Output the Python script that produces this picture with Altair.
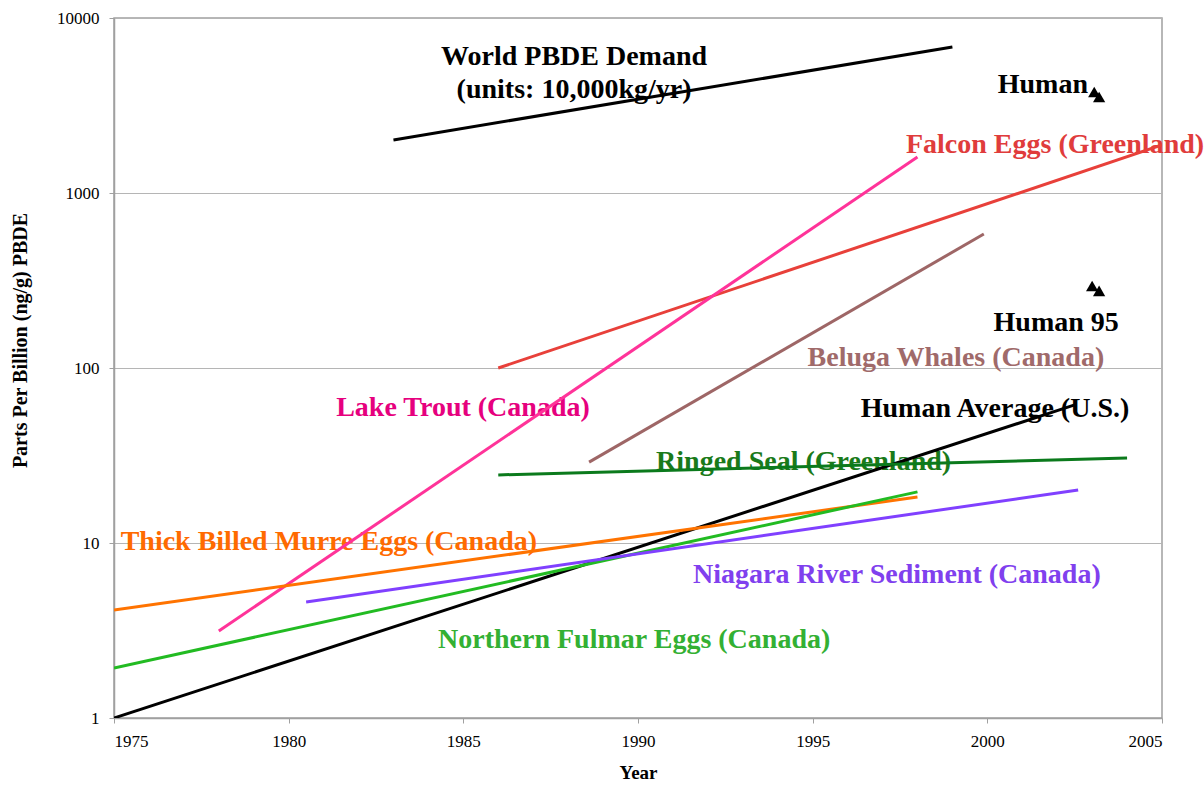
import altair as alt
import pandas as pd

# Trend lines: each series is a straight line on the log axis, given by its two ends
series_names = [
    "World PBDE Demand",
    "Human Average (U.S.)",
    "Falcon Eggs (Greenland)",
    "Lake Trout (Canada)",
    "Beluga Whales (Canada)",
    "Ringed Seal (Greenland)",
    "Thick Billed Murre Eggs (Canada)",
    "Northern Fulmar Eggs (Canada)",
    "Niagara River Sediment (Canada)",
]
start_year = [1983.0, 1975.0, 1986.0, 1978.0, 1988.6, 1986.0, 1975.0, 1975.0, 1980.5]
end_year = [1999.0, 2002.5, 2005.0, 1998.0, 1999.9, 2004.0, 1998.0, 1998.0, 2002.6]
start_value = [2010, 1.0, 100, 3.14, 29.0, 24.5, 4.14, 1.93, 4.6]
end_value = [6830, 61.5, 1880, 1606, 583, 30.6, 18.3, 19.6, 20.1]
line_colors = ["#000000", "#000000", "#e8403a", "#ff3399", "#9e6666",
               "#0b7a1c", "#ff7300", "#22bb22", "#8040ff"]

# Individual human measurements (triangles)
human_year = [2003.06, 2003.2, 2003.0, 2003.2]
human_value = [3777, 3537, 294, 276]

# Annotation labels
label_text = [
    "World PBDE Demand",
    "(units: 10,000kg/yr)",
    "Human",
    "Lake Trout (Canada)",
    "Beluga Whales (Canada)",
    "Human 95",
    "Human Average (U.S.)",
    "Ringed Seal (Greenland)",
    "Thick Billed Murre Eggs (Canada)",
    "Niagara River Sediment (Canada)",
    "Northern Fulmar Eggs (Canada)",
]
label_year = [1988.17, 1988.17, 2001.59, 1984.99, 1999.10, 2001.97,
              2000.22, 1994.74, 1981.15, 1997.41, 1989.89]
label_value = [5985, 3880, 4142, 59.1, 114, 181, 58.3, 29.0, 10.1, 6.56, 2.79]
label_colors = ["#000000", "#000000", "#000000", "#e6007e", "#a06a6a", "#000000",
                "#000000", "#1a7a1a", "#ff6a00", "#8040ee", "#33b033"]

# Falcon label runs off the right edge, so it is anchored at its left end
falcon_text = ["Falcon Eggs (Greenland)"]
falcon_year = [1997.67]
falcon_value = [1881]
falcon_color = ["#e03c3c"]

rows = []
for name, x0, x1, y0, y1 in zip(series_names, start_year, end_year, start_value, end_value):
    rows.append({"series": name, "year": x0, "value": y0})
    rows.append({"series": name, "year": x1, "value": y1})
lines_df = pd.DataFrame(rows)

points_df = pd.DataFrame({"year": human_year, "value": human_value})
labels_df = pd.DataFrame({"text": label_text, "year": label_year,
                          "value": label_value, "color": label_colors})
falcon_df = pd.DataFrame({"text": falcon_text, "year": falcon_year,
                          "value": falcon_value, "color": falcon_color})

FONT = "Liberation Serif"
LABEL_SIZE = 28

x_scale = alt.Scale(domain=[1975, 2005], nice=False, zero=False)
y_scale = alt.Scale(type="log", domain=[1, 10000], nice=False)

x_axis = alt.Axis(
    title="Year", values=list(range(1975, 2006, 5)), format="d", grid=False,
    labelFont=FONT, labelFontSize=17, labelColor="#000000", labelPadding=10,
    tickSize=5, tickColor="#a0a0a0", domainColor="#a0a0a0", domainWidth=1.5,
    titleFont=FONT, titleFontSize=19, titleFontWeight="bold", titleColor="#000000",
    titlePadding=14,
)
y_axis = alt.Axis(
    title="Parts Per Billion (ng/g) PBDE", values=[1, 10, 100, 1000, 10000], format="d",
    grid=True, gridColor="#b5b5b5", gridWidth=1.2,
    labelFont=FONT, labelFontSize=17, labelColor="#000000", labelPadding=10,
    tickSize=5, tickColor="#a0a0a0", domainColor="#a0a0a0", domainWidth=1.5,
    titleFont=FONT, titleFontSize=20, titleFontWeight="bold", titleColor="#000000",
    titleX=-84, titleY=322,
)

lines = alt.Chart(lines_df).mark_line(strokeWidth=3, clip=True).encode(
    x=alt.X("year:Q", scale=x_scale, axis=x_axis),
    y=alt.Y("value:Q", scale=y_scale, axis=y_axis),
    color=alt.Color("series:N", scale=alt.Scale(domain=series_names, range=line_colors),
                    legend=None),
    detail="series:N",
)

labels = alt.Chart(labels_df).mark_text(
    font=FONT, fontSize=LABEL_SIZE, fontWeight="bold", align="center", baseline="middle"
).encode(
    x=alt.X("year:Q", scale=x_scale),
    y=alt.Y("value:Q", scale=y_scale),
    text="text:N",
    color=alt.Color("color:N", scale=None),
)

falcon_label = alt.Chart(falcon_df).mark_text(
    font=FONT, fontSize=LABEL_SIZE, fontWeight="bold", align="left", baseline="middle"
).encode(
    x=alt.X("year:Q", scale=x_scale),
    y=alt.Y("value:Q", scale=y_scale),
    text="text:N",
    color=alt.Color("color:N", scale=None),
)

triangles = alt.Chart(points_df).mark_point(
    shape="triangle-up", filled=True, size=150, color="#000000", opacity=1
).encode(
    x=alt.X("year:Q", scale=x_scale),
    y=alt.Y("value:Q", scale=y_scale),
)

chart = alt.layer(labels, falcon_label, lines, triangles).properties(
    width=1048,
    height=700,
    autosize=alt.AutoSizeParams(type="none"),
    padding={"left": 114, "top": 18, "right": 42, "bottom": 67},
    background="#ffffff",
).configure_view(
    stroke="#a0a0a0", strokeWidth=1.5
)

chart.save("out.html", embed_options={"renderer": "svg", "actions": False})
